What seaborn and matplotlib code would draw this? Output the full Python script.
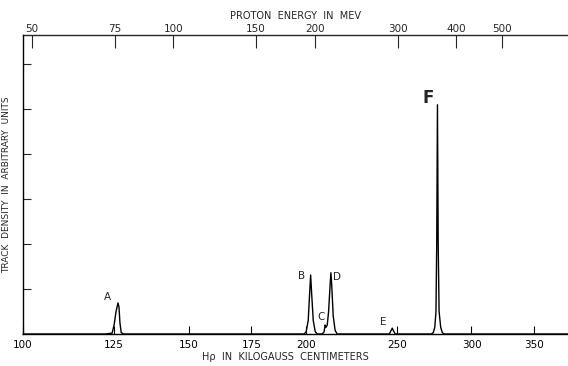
import numpy as np
import pandas as pd
import matplotlib
matplotlib.use("Agg")
import matplotlib.pyplot as plt
import seaborn as sns

# ---- data (H-rho in kilogauss cm, track density in arbitrary units)
base_start_h = [100.0, 122.3]
base_start_y = [0.0, 0.0]
peak_a_h = [124.4, 125.0, 125.6, 126.2, 126.5, 126.8, 127.2, 128.0]
peak_a_y = [0.02, 0.20, 0.50, 0.69, 0.60, 0.25, 0.03, 0.0]
peak_b_h = [199.1, 200.1, 201.1, 201.8, 202.3, 202.8, 203.6, 204.6, 205.6]
peak_b_y = [0.0, 0.05, 0.30, 0.90, 1.31, 0.90, 0.30, 0.05, 0.0]
peak_cd_h = [208.1, 209.1, 209.6, 210.1, 210.7, 211.4, 212.2, 212.6, 213.0, 213.8, 214.8, 215.9]
peak_cd_y = [0.0, 0.05, 0.20, 0.15, 0.20, 0.50, 1.10, 1.36, 1.10, 0.40, 0.08, 0.0]
peak_e_h = [245.3, 246.4, 247.1, 247.7, 248.9]
peak_e_y = [0.0, 0.08, 0.13, 0.08, 0.0]
peak_f_h = [271.8, 273.2, 274.2, 275.0, 275.5, 276.0, 276.5, 277.1, 278.2, 279.3, 280.6]
peak_f_y = [0.0, 0.03, 0.15, 0.50, 2.00, 5.09, 2.00, 0.50, 0.15, 0.03, 0.0]
base_end_h = [380.0]
base_end_y = [0.0]

peak_names = ["A", "B", "C", "D", "E", "F"]
label_h = [122.9, 198.0, 207.5, 215.8, 241.7, 269.8]
label_y = [0.82, 1.29, 0.38, 1.27, 0.27, 5.24]

hrho_ticks = [100, 125, 150, 175, 200, 250, 300, 350]
hrho_labels = ["100", "125", "150", "175", "200", "250", "300", "350"]
energy_ticks = [50, 75, 100, 150, 200, 300, 400, 500]
energy_labels = ["50", "75", "100", "150", "200", "300", "400", "500"]
density_ticks = [1, 2, 3, 4, 5, 6]

HRHO_PER_SQRT_MEV = 14.45  # non-relativistic relation H-rho = c * sqrt(E)

df = pd.DataFrame({
    "hrho": base_start_h + peak_a_h + peak_b_h + peak_cd_h + peak_e_h + peak_f_h + base_end_h,
    "density": base_start_y + peak_a_y + peak_b_y + peak_cd_y + peak_e_y + peak_f_y + base_end_y,
})

sns.set_style("ticks")
plt.rcParams["font.family"] = ["DejaVu Sans"]

fig = plt.figure(figsize=(5.68, 3.66), dpi=100)
ax = fig.add_axes([23 / 568, 1 - 334 / 366, 1 - 23 / 568, (334 - 35) / 366])

sns.lineplot(data=df, x="hrho", y="density", ax=ax, color="black", linewidth=1.0,
             sort=False, estimator=None)
for ln in ax.lines:
    ln.set_clip_on(False)

ax.set_xscale("log")
ax.set_xlim(100, 380)
ax.set_ylim(0, 6.64)

ax.set_xticks(hrho_ticks)
ax.set_xticklabels(hrho_labels)
ax.xaxis.set_minor_locator(matplotlib.ticker.NullLocator())
ax.set_yticks(density_ticks)
ax.set_yticklabels([])
ax.tick_params(axis="x", direction="in", length=6, width=0.8, labelsize=7.5, pad=4, colors="black")
ax.tick_params(axis="y", direction="in", length=6, width=0.8)

for s in ["left", "bottom"]:
    ax.spines[s].set_linewidth(1.0)
    ax.spines[s].set_color("black")
ax.spines["right"].set_visible(False)
ax.spines["top"].set_visible(False)

ax.set_xlabel("Hρ  IN  KILOGAUSS  CENTIMETERS", fontsize=7)
ax.xaxis.set_label_coords((285 - 23) / (568 - 23), -0.06)
ax.set_ylabel("TRACK  DENSITY  IN  ARBITRARY  UNITS", fontsize=6.5)
ax.yaxis.set_label_coords(-0.022, 0.5)


def to_energy(h):
    return (np.abs(h) / HRHO_PER_SQRT_MEV) ** 2


def to_hrho(e):
    return HRHO_PER_SQRT_MEV * np.sqrt(np.abs(e))


sec = ax.secondary_xaxis("top", functions=(to_energy, to_hrho))
sec.set_xticks(energy_ticks)
sec.set_xticklabels(energy_labels)
sec.xaxis.set_minor_locator(matplotlib.ticker.NullLocator())
sec.tick_params(axis="x", direction="in", length=9, width=0.8, labelsize=7.5, pad=1)
sec.spines["top"].set_linewidth(1.0)
sec.set_xlabel("PROTON  ENERGY  IN  MEV", fontsize=7, labelpad=3)

for name, hx, hy in zip(peak_names, label_h, label_y):
    if name == "F":
        ax.text(hx, hy, name, fontsize=12, fontweight="bold", ha="center", va="center")
    else:
        ax.text(hx, hy, name, fontsize=7.5, ha="center", va="center")

fig.savefig("out.png", dpi=100, facecolor="white")
